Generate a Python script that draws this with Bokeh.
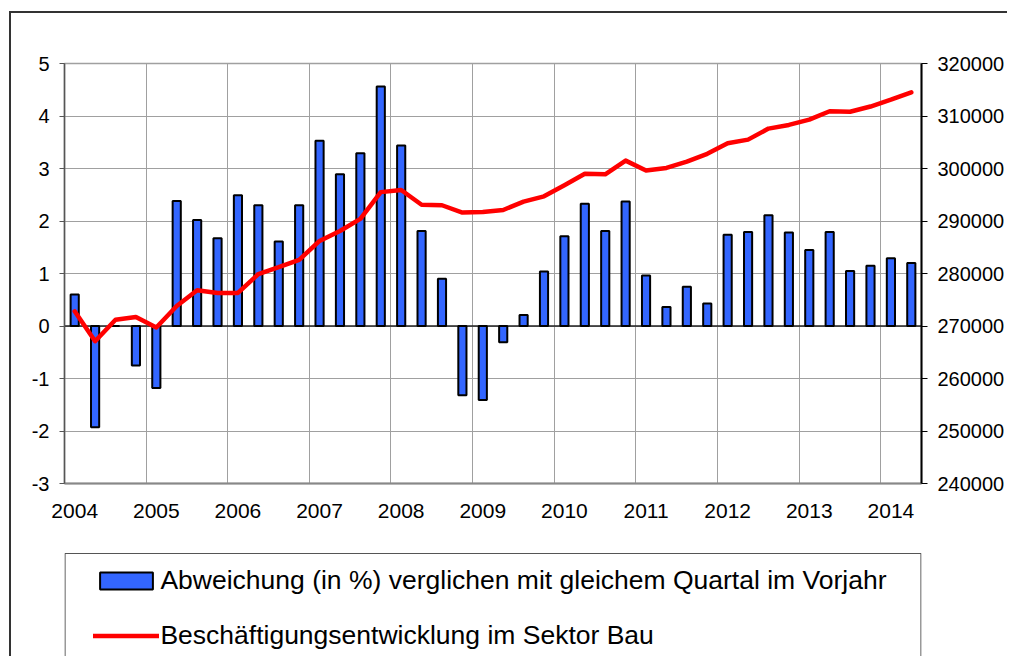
from bokeh.plotting import figure
from bokeh.layouts import column
from bokeh.models import (ColumnDataSource, Range1d, LinearAxis, FixedTicker, SingleIntervalTicker,
                          NumeralTickFormatter, PrintfTickFormatter, Span, Legend, LegendItem,
                          BoxAnnotation)
from bokeh.embed import file_html
from bokeh.resources import INLINE

# ---- data ----
years = ["2004", "2005", "2006", "2007", "2008", "2009", "2010", "2011", "2012", "2013", "2014"]
quarters = [f"{y}-Q{q}" for y in years for q in (1, 2, 3, 4)][:42]
abweichung = [0.60, -1.93, 0.0, -0.75, -1.18, 2.38, 2.02, 1.67, 2.49, 2.30, 1.61, 2.30,
              3.53, 2.89, 3.29, 4.56, 3.44, 1.81, 0.90, -1.32, -1.41, -0.31, 0.21, 1.04,
              1.71, 2.33, 1.81, 2.37, 0.96, 0.36, 0.75, 0.43, 1.74, 1.79, 2.11, 1.78,
              1.45, 1.79, 1.05, 1.15, 1.29, 1.20]
beschaeftigte = [272800, 267100, 271200, 271700, 269700, 273800, 276800, 276300, 276300, 279900,
                 281200, 282600, 286200, 288100, 290400, 295500, 295900, 293100, 293000, 291600,
                 291700, 292100, 293700, 294700, 296800, 299000, 298900, 301500, 299600, 300100,
                 301300, 302800, 304800, 305500, 307600, 308300, 309300, 310900, 310800, 311800,
                 313100, 314500]
label_bars = "Abweichung (in %) verglichen mit gleichem Quartal im Vorjahr"
label_line = "Beschäftigungsentwicklung im Sektor Bau"

x = list(range(len(quarters)))
src = ColumnDataSource(dict(x=x, q=quarters, abw=abweichung, emp=beschaeftigte))

FONT = "Liberation Sans"
BAR_STYLE = dict(fill_color="#3366ff", line_color="black", line_width=2)
LINE_STYLE = dict(line_color="#ff0000", line_width=4.5, line_join="round", line_cap="round")

W = 996
BL, BR = 53, 85          # left / right borders around the plot area
FW = W - BL - BR         # plot area width

# ---------------- main chart ----------------
p = figure(width=W, height=532, output_backend="svg", toolbar_location=None,
           x_range=Range1d(-0.5, len(quarters) - 0.5), y_range=Range1d(-3, 5),
           min_border_left=BL, min_border_right=BR, min_border_top=50, min_border_bottom=62)
p.extra_y_ranges = {"emp": Range1d(240000, 320000)}
p.background_fill_color = "white"
p.border_fill_color = "white"
p.outline_line_color = "#a0a0a0"
p.outline_line_width = 1.5

year_pos = [i for i, q in enumerate(quarters) if q.endswith("Q1")]
boundaries = [i - 0.5 for i in year_pos if i > 0]
p.xgrid.ticker = FixedTicker(ticks=boundaries)
p.xgrid.grid_line_color = "#a0a0a0"
p.xgrid.grid_line_width = 1
p.ygrid.grid_line_color = "#a0a0a0"
p.ygrid.grid_line_width = 1

xa = p.xaxis[0]
xa.ticker = FixedTicker(ticks=year_pos)
xa.major_label_overrides = {i: quarters[i][:4] for i in year_pos}
xa.major_tick_out = 0
xa.major_tick_in = 0
xa.minor_tick_out = 0
xa.minor_tick_in = 0
xa.axis_line_color = "#888888"
xa.axis_line_width = 2
xa.major_label_standoff = 20
xa.major_label_text_font = FONT
xa.major_label_text_font_size = "21px"
xa.major_label_text_color = "black"

ya = p.yaxis[0]
ya.ticker = SingleIntervalTicker(interval=1)
ya.formatter = PrintfTickFormatter(format="%d")
ya.major_tick_out = 5
ya.major_tick_in = 0
ya.minor_tick_out = 0
ya.minor_tick_in = 0
ya.axis_line_color = "#555555"
ya.axis_line_width = 1.5
ya.major_tick_line_color = "#555555"
ya.major_label_standoff = 10
ya.major_label_text_font = FONT
ya.major_label_text_font_size = "20px"
ya.major_label_text_color = "black"

ra = LinearAxis(y_range_name="emp", ticker=SingleIntervalTicker(interval=10000),
                formatter=NumeralTickFormatter(format="0"))
ra.major_tick_out = 6
ra.major_tick_in = 0
ra.minor_tick_out = 0
ra.minor_tick_in = 0
ra.axis_line_color = "black"
ra.axis_line_width = 2
ra.major_tick_line_color = "black"
ra.major_label_standoff = 10
ra.major_label_text_font = FONT
ra.major_label_text_font_size = "20px"
ra.major_label_text_color = "black"
p.add_layout(ra, "right")

p.add_layout(Span(location=0, dimension="width", line_color="#222222", line_width=1.5, level="underlay"))

bars = p.vbar(x="x", top="abw", bottom=0, width=0.4, source=src, **BAR_STYLE)
line = p.line(x="x", y="emp", y_range_name="emp", source=src, **LINE_STYLE)

# ---------------- legend panel ----------------
LH = 111
lf = figure(width=W, height=LH, output_backend="svg", toolbar_location=None,
            x_range=Range1d(0, FW), y_range=Range1d(0, LH),
            min_border_left=BL, min_border_right=BR, min_border_top=0, min_border_bottom=0)
lf.axis.visible = False
lf.grid.visible = False
lf.outline_line_color = None
lf.background_fill_color = "white"
lf.border_fill_color = "white"
# legend frame (open at the bottom, cut by the window)
lf.add_layout(BoxAnnotation(left=0.5, right=FW - 0.5, top=103, bottom=-50,
                            fill_alpha=0, line_color="#555555", line_alpha=1.0, line_width=1.2))
# hidden stand-ins that only lend their style to the legend entries
lbars = lf.vbar(x="x", top="abw", width=0.4, source=src, visible=False, **BAR_STYLE)
lline = lf.line(x="x", y="abw", source=src, visible=False, **LINE_STYLE)

legend = Legend(items=[LegendItem(label=label_bars, renderers=[lbars]),
                       LegendItem(label=label_line, renderers=[lline])],
                location=(19.4, -5), padding=10, spacing=24, margin=0,
                glyph_width=66, glyph_height=21, label_standoff=1,
                label_text_font=FONT, label_text_font_size="26.5px",
                label_text_color="black",
                border_line_alpha=0, background_fill_alpha=0)
lf.add_layout(legend)

layout = column(p, lf, spacing=0, margin=(11, 0, 0, 9),
                styles={"border-left": "2px solid #333333", "border-top": "2px solid #333333"})

open("out.html", "w").write(file_html(layout, INLINE))
